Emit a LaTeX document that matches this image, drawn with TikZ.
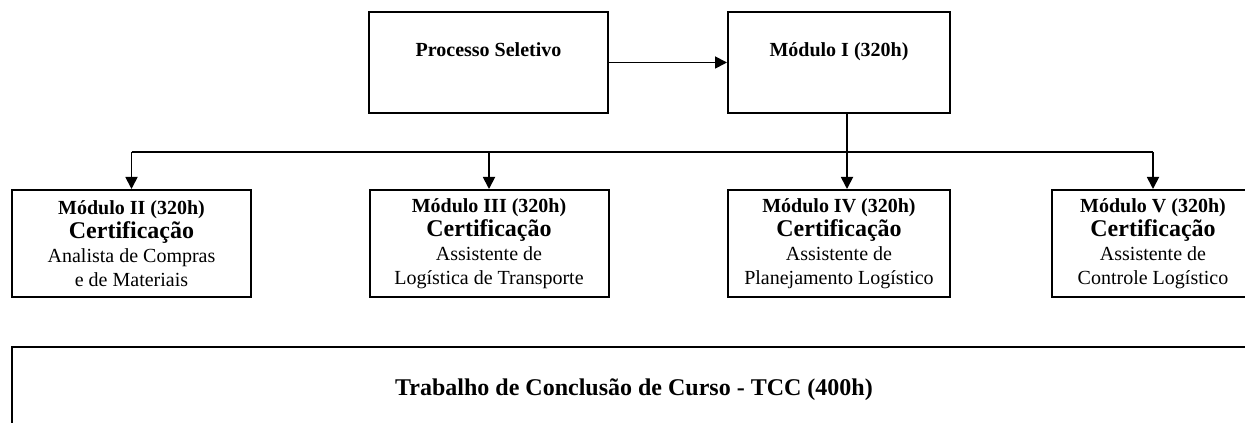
\documentclass[tikz,border=0pt]{standalone}
\usepackage{fontspec}
\setmainfont{Liberation Serif}
\usetikzlibrary{arrows.meta}
\tikzset{
  box/.style={draw,line width=2pt,inner sep=3pt,font=\fontsize{20}{24}\selectfont\bfseries},
  modbox/.style={draw,line width=2pt,inner sep=3pt,minimum height=107,align=center,font=\fontsize{20}{24}\selectfont},
  arr/.style={line width=1.8pt,-{Triangle[length=12pt,width=12pt]}},
  busline/.style={line width=1.2pt}
}
\newcommand{\certif}{{\fontsize{24}{24}\selectfont\bfseries Certificação}}
\begin{document}
\begin{tikzpicture}[x=1pt,y=1pt]
  \useasboundingbox (0,0) rectangle (1245,423);
  \clip (0,0) rectangle (1245,423);
  \fill[white] (0,0) rectangle (1245,423);
  % top row
  \node[box,minimum width=239,minimum height=101,text height=14pt,text depth=25pt] (proc) at (488.5,360.5) {Processo Seletivo};
  \node[box,minimum width=222,minimum height=101,text height=14pt,text depth=25pt] (mod1) at (839,360.5) {Módulo I (320h)};
  % modules
  \node[modbox,minimum width=239] (mod2) at (131.5,179.5) {\textbf{Módulo II (320h)}\\ \certif\\ Analista de Compras\\ e de Materiais};
  \node[modbox,minimum width=239] (mod3) at (489,179.5) {\textbf{Módulo III (320h)}\\ \certif\\ Assistente de\\ Logística de Transporte};
  \node[modbox,minimum width=222] (mod4) at (839,179.5) {\textbf{Módulo IV (320h)}\\ \certif\\ Assistente de\\ Planejamento Logístico};
  \node[modbox,minimum width=202] (mod5) at (1153,179.5) {\textbf{Módulo V (320h)}\\ \certif\\ Assistente de\\ Controle Logístico};
  % final work
  \node[box,minimum width=1244,minimum height=85,font=\fontsize{24}{28}\selectfont\bfseries] (tcc) at (634,33.5) {Trabalho de Conclusão de Curso - TCC (400h)};
  % connectors
  \coordinate (bus) at (0,271);
  \draw[arr] (proc.east) -- (mod1.west);
  \draw[arr] ([xshift=8pt]mod1.south) -- ([xshift=8pt]mod4.north);
  \draw[busline] (mod2.north |- bus) -- (mod5.north |- bus);
  \draw[arr] (mod2.north |- bus) -- (mod2.north);
  \draw[arr] (mod3.north |- bus) -- (mod3.north);
  \draw[arr] (mod5.north |- bus) -- (mod5.north);
\end{tikzpicture}
\end{document}
